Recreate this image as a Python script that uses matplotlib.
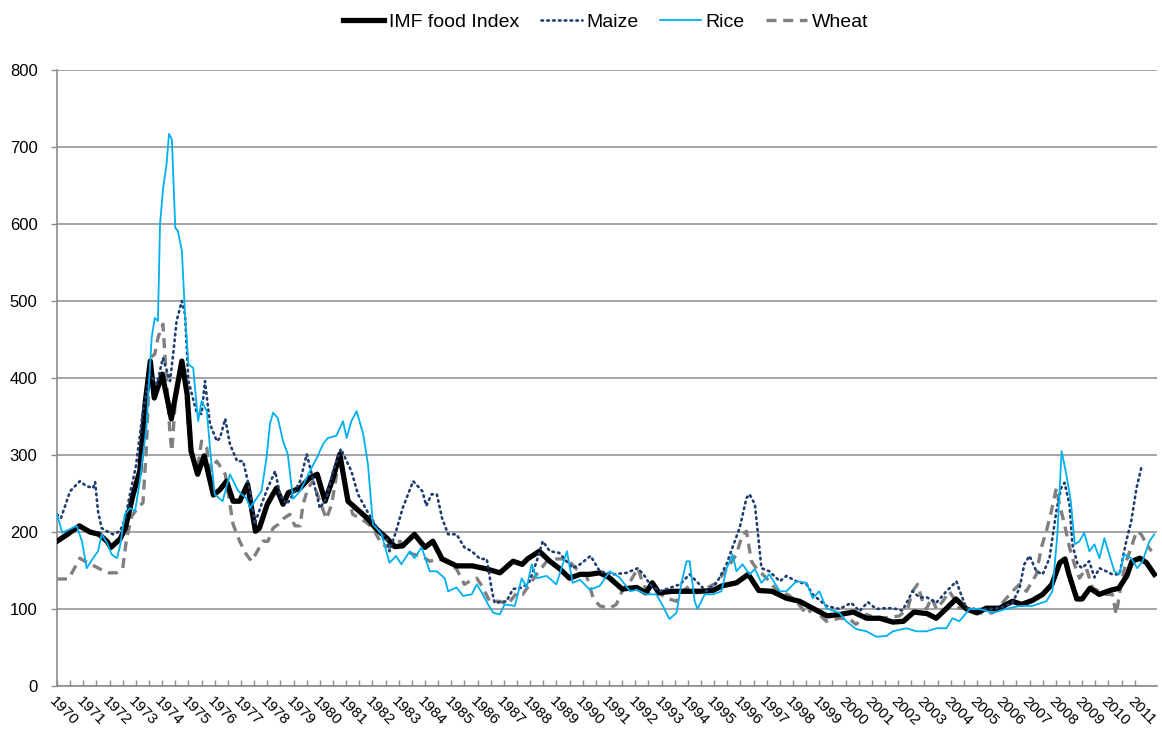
import numpy as np
import matplotlib
matplotlib.use("Agg")
import matplotlib.pyplot as plt

# values (decimal year, index level)
food_t = [1970.0, 1970.4, 1970.85, 1971.25, 1971.6, 1971.9, 1972.05, 1972.4, 1972.6, 1972.9,
          1973.15, 1973.35, 1973.55, 1973.7, 1974.0, 1974.35, 1974.75, 1974.95, 1975.1, 1975.35,
          1975.6, 1975.95, 1976.2, 1976.45, 1976.7, 1976.95, 1977.25, 1977.55, 1977.7, 1978.0,
          1978.35, 1978.6, 1978.8, 1979.25, 1979.6, 1979.9, 1980.2, 1980.5, 1980.76, 1981.07,
          1981.4, 1981.8, 1982.15, 1982.55, 1982.85, 1983.15, 1983.6, 1984.0, 1984.3, 1984.65,
          1985.2, 1985.8, 1986.35, 1986.85, 1987.35, 1987.7, 1987.9, 1988.35, 1988.75, 1989.1,
          1989.5, 1989.9, 1990.25, 1990.65, 1991.0, 1991.5, 1992.05, 1992.4, 1992.65, 1992.9,
          1993.4, 1993.95, 1994.45, 1994.95, 1995.3, 1995.85, 1996.3, 1996.7, 1997.2, 1997.75,
          1998.25, 1998.75, 1999.3, 1999.8, 2000.3, 2000.8, 2001.3, 2001.8, 2002.2, 2002.6,
          2003.1, 2003.45, 2003.85, 2004.2, 2004.6, 2005.0, 2005.35, 2005.85, 2006.35, 2006.7,
          2007.1, 2007.5, 2007.85, 2008.15, 2008.35, 2008.5, 2008.8, 2009.0, 2009.3, 2009.65,
          2010.05, 2010.4, 2010.7, 2010.9, 2011.2, 2011.45, 2011.75]
food_v = [188, 197, 208, 200, 197, 188, 180, 191, 205, 249,
          279, 366, 422, 374, 405, 347, 422, 379, 305, 275,
          299, 248, 255, 266, 240, 240, 262, 201, 205, 236,
          257, 236, 251, 257, 270, 275, 240, 270, 301, 240,
          230, 218, 204, 192, 181, 182, 197, 180, 188, 165,
          156, 156, 152, 147, 162, 158, 165, 175, 162, 153,
          140, 145, 145, 147, 141, 126, 128, 121, 134, 121,
          123, 123, 123, 124, 130, 134, 145, 124, 123, 114,
          110, 101, 91, 93, 96, 88, 88, 83, 84, 96,
          94, 88, 101, 113, 100, 95, 101, 101, 110, 106,
          111, 119, 132, 160, 165, 145, 113, 113, 127, 119,
          124, 127, 143, 162, 166, 160, 145]

maize_t = [1970.0, 1970.15, 1970.5, 1970.87, 1971.1, 1971.37, 1971.45, 1971.56, 1971.7, 1971.9,
           1972.13, 1972.4, 1972.6, 1972.78, 1973.0, 1973.27, 1973.53, 1973.8, 1974.03, 1974.3,
           1974.42, 1974.55, 1974.75, 1974.87, 1975.0, 1975.3, 1975.5, 1975.63, 1975.82, 1976.08,
           1976.2, 1976.4, 1976.58, 1976.85, 1977.08, 1977.35, 1977.52, 1977.78, 1978.0, 1978.3,
           1978.48, 1978.75, 1978.98, 1979.25, 1979.5, 1979.73, 1980.0, 1980.25, 1980.5, 1980.8,
           1981.2, 1981.45, 1981.8, 1982.15, 1982.55, 1982.65, 1982.9, 1983.15, 1983.55, 1983.9,
           1984.05, 1984.25, 1984.45, 1984.65, 1984.88, 1985.2, 1985.5, 1985.78, 1986.1, 1986.35,
           1986.55, 1986.65, 1987.1, 1987.35, 1987.72, 1987.98, 1988.25, 1988.48, 1988.75, 1989.1,
           1989.62, 1989.9, 1990.3, 1990.65, 1991.15, 1991.67, 1992.1, 1992.4, 1992.55, 1992.93,
           1993.2, 1993.7, 1994.07, 1994.33, 1994.7, 1995.1, 1995.47, 1995.7, 1995.97, 1996.23,
           1996.35, 1996.55, 1996.67, 1996.8, 1997.1, 1997.5, 1997.75, 1998.13, 1998.52, 1998.75,
           1999.27, 1999.77, 2000.22, 2000.53, 2000.85, 2001.17, 2001.5, 2001.8, 2002.17, 2002.55,
           2002.82, 2003.1, 2003.45, 2003.84, 2004.22, 2004.35, 2004.6, 2005.0, 2005.4, 2005.85,
           2006.35, 2006.62, 2006.8, 2007.0, 2007.26, 2007.5, 2007.76, 2008.02, 2008.2, 2008.33,
           2008.52, 2008.63, 2008.83, 2009.0, 2009.27, 2009.47, 2009.66, 2009.92, 2010.15, 2010.42,
           2010.68, 2010.87, 2011.07, 2011.25]
maize_v = [223, 218, 253, 266, 260, 257, 265, 227, 205, 201,
           197, 201, 218, 250, 285, 357, 405, 392, 426, 396,
           431, 474, 500, 483, 396, 357, 353, 396, 340, 318,
           322, 347, 314, 292, 292, 253, 210, 236, 256, 279,
           249, 236, 249, 266, 301, 270, 231, 244, 279, 308,
           279, 249, 227, 207, 190, 175, 201, 231, 266, 253,
           234, 249, 249, 218, 197, 197, 180, 175, 165, 165,
           123, 108, 110, 126, 128, 136, 162, 188, 175, 173,
           153, 158, 169, 149, 145, 147, 153, 141, 132, 123,
           126, 132, 145, 136, 123, 134, 158, 180, 205, 244,
           249, 236, 197, 153, 149, 136, 143, 136, 132, 119,
           104, 100, 108, 97, 109, 100, 101, 101, 98, 123,
           115, 115, 108, 123, 136, 123, 101, 100, 100, 101,
           108, 127, 158, 169, 149, 145, 166, 227, 257, 264,
           236, 184, 158, 153, 162, 141, 153, 149, 145, 145,
           188, 214, 257, 283]

rice_t = [1970.0, 1970.2, 1970.57, 1970.75, 1970.95, 1971.13, 1971.37, 1971.56, 1971.7, 1971.9,
          1972.08, 1972.28, 1972.4, 1972.58, 1972.78, 1972.97, 1973.15, 1973.4, 1973.6, 1973.72,
          1973.84, 1973.92, 1974.04, 1974.17, 1974.26, 1974.37, 1974.5, 1974.6, 1974.75, 1974.87,
          1975.0, 1975.18, 1975.37, 1975.5, 1975.7, 1975.82, 1976.0, 1976.3, 1976.58, 1976.9,
          1977.2, 1977.35, 1977.52, 1977.78, 1977.97, 1978.1, 1978.22, 1978.4, 1978.6, 1978.78,
          1978.98, 1979.25, 1979.62, 1979.88, 1980.12, 1980.3, 1980.63, 1980.88, 1981.02, 1981.2,
          1981.4, 1981.65, 1981.83, 1982.02, 1982.35, 1982.65, 1982.9, 1983.1, 1983.42, 1983.6,
          1983.87, 1984.18, 1984.45, 1984.75, 1984.88, 1985.2, 1985.45, 1985.78, 1985.97, 1986.2,
          1986.4, 1986.6, 1986.85, 1987.03, 1987.42, 1987.68, 1987.87, 1988.06, 1988.25, 1988.63,
          1989.0, 1989.4, 1989.62, 1989.9, 1990.27, 1990.65, 1991.03, 1991.4, 1991.8, 1992.05,
          1992.43, 1992.8, 1993.05, 1993.3, 1993.57, 1993.77, 1993.95, 1994.07, 1994.26, 1994.37,
          1994.64, 1994.95, 1995.28, 1995.47, 1995.7, 1995.85, 1996.08, 1996.35, 1996.55, 1996.8,
          1997.1, 1997.5, 1997.75, 1998.13, 1998.52, 1998.75, 1999.0, 1999.27, 1999.77, 2000.03,
          2000.4, 2000.8, 2001.17, 2001.56, 2001.8, 2002.32, 2002.7, 2003.08, 2003.46, 2003.84,
          2004.07, 2004.33, 2004.72, 2005.1, 2005.6, 2006.1, 2006.62, 2007.1, 2007.64, 2007.87,
          2008.06, 2008.22, 2008.4, 2008.57, 2008.72, 2008.9, 2009.08, 2009.28, 2009.47, 2009.66,
          2009.85, 2010.03, 2010.23, 2010.42, 2010.6, 2010.87, 2011.1, 2011.3, 2011.56, 2011.75]
rice_v = [223, 199, 205, 208, 188, 153, 166, 175, 197, 186,
          171, 166, 182, 223, 231, 227, 266, 335, 452, 478,
          474, 600, 647, 678, 717, 710, 595, 591, 565, 483,
          418, 413, 344, 370, 357, 309, 249, 240, 275, 253,
          244, 231, 240, 253, 296, 340, 355, 348, 318, 301,
          243, 253, 279, 296, 314, 322, 325, 344, 322, 344,
          357, 327, 288, 210, 197, 160, 169, 158, 175, 166,
          180, 149, 149, 140, 123, 128, 117, 119, 132, 119,
          106, 95, 93, 106, 104, 140, 128, 158, 140, 143,
          132, 175, 134, 138, 125, 130, 149, 141, 123, 125,
          119, 119, 104, 87, 95, 136, 162, 162, 110, 100,
          119, 119, 123, 152, 171, 149, 158, 145, 152, 134,
          145, 123, 123, 136, 134, 114, 123, 101, 95, 84,
          74, 71, 64, 65, 71, 75, 71, 71, 75, 75,
          88, 84, 100, 100, 95, 100, 104, 104, 110, 123,
          197, 305, 275, 240, 184, 188, 199, 175, 184, 166,
          192, 171, 149, 145, 171, 166, 153, 162, 188, 197]

wheat_t = [1970.0, 1970.43, 1970.6, 1970.87, 1971.06, 1971.3, 1971.63, 1971.95, 1972.27, 1972.5,
           1972.65, 1972.85, 1973.07, 1973.27, 1973.4, 1973.53, 1973.72, 1973.84, 1974.03, 1974.17,
           1974.3, 1974.37, 1974.5, 1974.68, 1974.87, 1975.0, 1975.18, 1975.37, 1975.5, 1975.7,
           1975.82, 1976.08, 1976.4, 1976.7, 1976.95, 1977.2, 1977.4, 1977.62, 1977.83, 1978.03,
           1978.22, 1978.42, 1978.6, 1978.86, 1979.05, 1979.25, 1979.36, 1979.55, 1979.73, 1980.0,
           1980.25, 1980.45, 1980.64, 1980.83, 1981.02, 1981.25, 1981.52, 1981.79, 1982.02, 1982.35,
           1982.66, 1982.8, 1983.05, 1983.3, 1983.55, 1983.87, 1984.18, 1984.5, 1984.82, 1985.2,
           1985.5, 1985.7, 1985.97, 1986.2, 1986.46, 1986.85, 1987.15, 1987.49, 1987.72, 1987.98,
           1988.25, 1988.63, 1989.0, 1989.4, 1989.77, 1990.15, 1990.4, 1990.65, 1991.03, 1991.28,
           1991.5, 1991.78, 1992.1, 1992.3, 1992.55, 1992.8, 1993.2, 1993.57, 1993.8, 1994.07,
           1994.33, 1994.7, 1995.1, 1995.33, 1995.6, 1995.85, 1996.08, 1996.23, 1996.42, 1996.62,
           1996.85, 1997.1, 1997.5, 1997.8, 1998.13, 1998.52, 1998.75, 1999.27, 1999.77, 2000.15,
           2000.4, 2000.8, 2001.17, 2001.67, 2002.05, 2002.37, 2002.55, 2002.74, 2002.93, 2003.08,
           2003.27, 2003.46, 2003.7, 2003.95, 2004.14, 2004.33, 2004.72, 2005.1, 2005.6, 2005.97,
           2006.35, 2006.62, 2006.88, 2007.26, 2007.45, 2007.64, 2007.83, 2008.02, 2008.14, 2008.33,
           2008.52, 2008.71, 2008.9, 2009.16, 2009.4, 2009.66, 2009.92, 2010.15, 2010.3, 2010.5,
           2010.68, 2010.87, 2011.07, 2011.25, 2011.45, 2011.64]
wheat_v = [139, 139, 149, 166, 162, 158, 152, 147, 147, 153,
           192, 221, 231, 238, 309, 426, 431, 452, 470, 396,
           327, 305, 370, 405, 400, 335, 296, 288, 318, 309,
           279, 292, 275, 210, 188, 171, 162, 175, 188, 188,
           205, 210, 217, 223, 208, 208, 236, 257, 266, 240,
           217, 236, 275, 288, 253, 223, 218, 212, 205, 184,
           180, 184, 188, 175, 171, 169, 162, 165, 162, 152,
           132, 136, 140, 128, 110, 110, 106, 121, 119, 132,
           145, 162, 165, 165, 152, 143, 114, 104, 101, 106,
           123, 134, 153, 132, 119, 123, 114, 110, 123, 130,
           121, 127, 134, 145, 158, 171, 197, 201, 162, 152,
           145, 136, 119, 119, 110, 93, 101, 84, 88, 87,
           80, 93, 88, 89, 91, 101, 123, 132, 110, 100,
           115, 100, 110, 123, 113, 101, 101, 95, 95, 108,
           123, 132, 123, 145, 180, 201, 227, 257, 236, 210,
           180, 158, 140, 153, 127, 123, 119, 119, 93, 136,
           162, 180, 201, 197, 184, 175]

years = list(range(1970, 2012))
yticks = [0, 100, 200, 300, 400, 500, 600, 700, 800]

plt.rcParams['font.family'] = ['Liberation Sans', 'DejaVu Sans']

fig = plt.figure(figsize=(11.62, 7.31), dpi=100)
ax = fig.add_axes([57 / 1162, 1 - 686 / 731, 1100 / 1162, 616 / 731])

ax.plot(food_t, food_v, color='black', lw=3.8, solid_joinstyle='round',
        label='IMF food Index', zorder=3)
ax.plot(maize_t, maize_v, color='#1f3d6e', lw=1.9, linestyle=(0, (0.6, 1.6)),
        dash_capstyle='round', label='Maize', zorder=4)
ax.plot(rice_t, rice_v, color='#00b0f0', lw=1.3, label='Rice', zorder=5)
ax.plot(wheat_t, wheat_v, color='#808080', lw=2.4, linestyle=(0, (3, 2)),
        label='Wheat', zorder=2)

ax.set_xlim(1970, 2011.85)
ax.set_ylim(0, 800)
ax.set_yticks(yticks)
ax.set_yticklabels([str(v) for v in yticks], fontsize=12)
ax.yaxis.grid(True, color='#8c8c8c', lw=1.1)
ax.set_axisbelow(True)
ax.tick_params(axis='y', length=4, width=1, color='#8c8c8c', pad=10)

ax.set_xticks(years)
ax.set_xticklabels([str(y) for y in years], rotation=-45, ha='left',
                   rotation_mode='anchor', fontsize=11)
ax.set_xticks([y + 0.5 for y in years[:-1]], minor=True)
ax.tick_params(axis='x', which='both', direction='in', length=4, width=1,
               color='#8c8c8c', pad=6)

for side in ['top', 'right']:
    ax.spines[side].set_visible(False)
for side in ['left', 'bottom']:
    ax.spines[side].set_color('#8c8c8c')
    ax.spines[side].set_linewidth(1.2)

fig.legend(loc='center', bbox_to_anchor=(606 / 1162, 1 - 22 / 731), ncol=4, frameon=False,
           fontsize=14, handlelength=2.1, columnspacing=1.1, handletextpad=0.25)

fig.savefig('out.png', dpi=100)
